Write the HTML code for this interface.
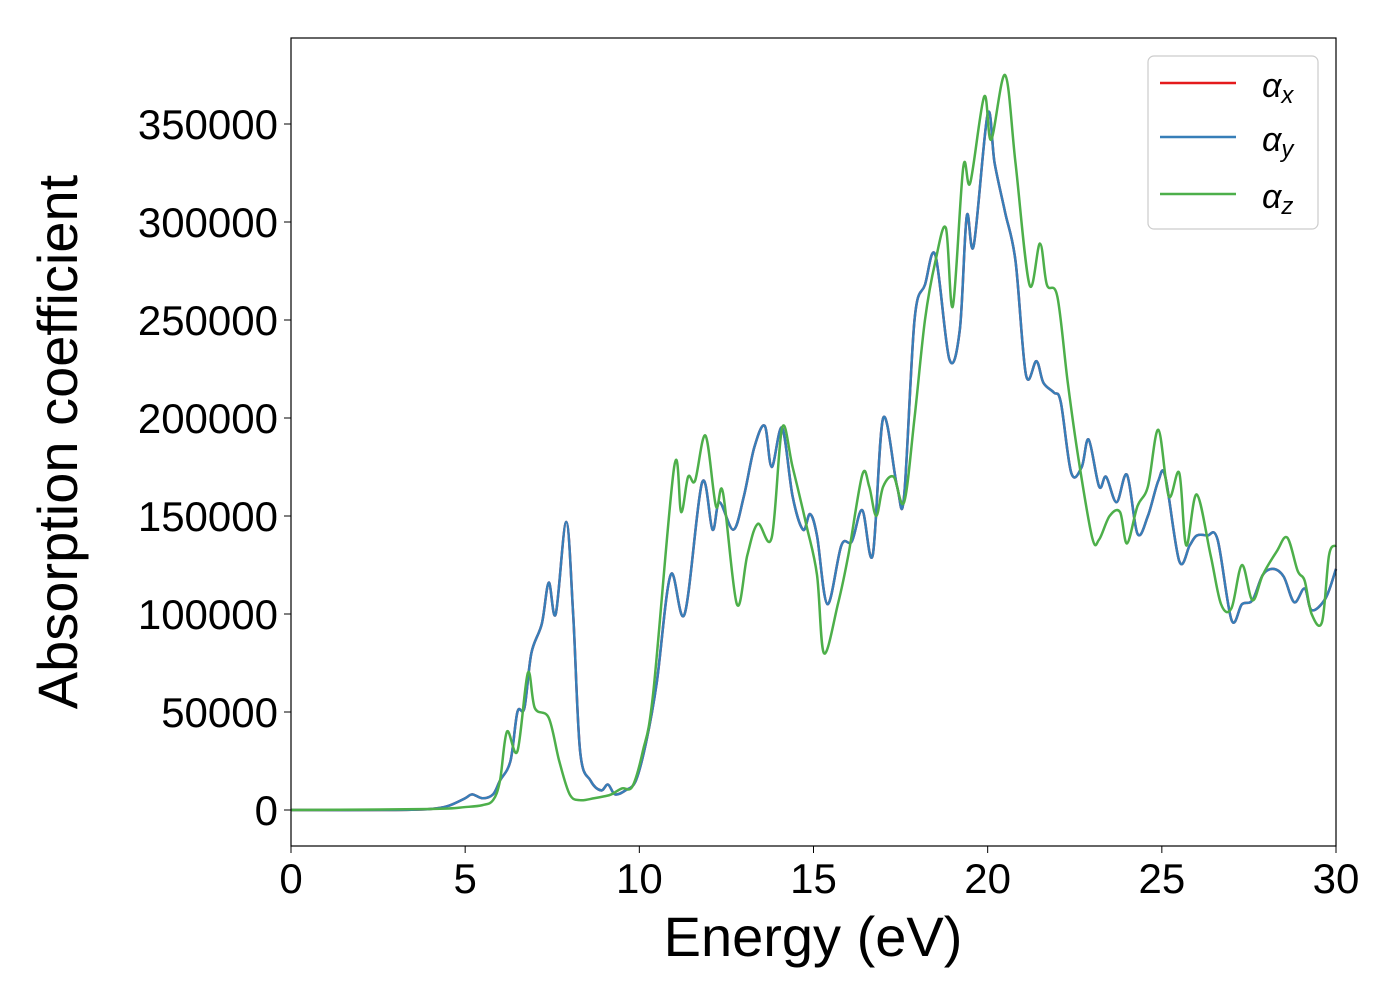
<!DOCTYPE html>
<html><head><meta charset="utf-8"><style>
body{margin:0;background:#fff;}
svg text{font-family:"Liberation Sans","DejaVu Sans",sans-serif;}
</style></head><body>
<svg width="1400" height="1000" xmlns="http://www.w3.org/2000/svg">
<g id="series"></g>
<rect x="291" y="38" width="1045" height="808" fill="none" stroke="#000" stroke-width="1.2"/>
<g id="xt"></g>
<g id="yt"></g>
<text x="813" y="956" font-size="56" text-anchor="middle">Energy (eV)</text>
<text transform="translate(77,442) rotate(-90)" font-size="56" text-anchor="middle">Absorption coefficient</text>
<g>
<rect x="1148" y="56" width="170" height="173" rx="6" fill="#fff" stroke="#ccc" stroke-width="1.2"/>
<line x1="1160" y1="83" x2="1236" y2="83" stroke="#e41a1c" stroke-width="2.5"/>
<text x="1262" y="97" font-size="34" font-style="italic">α<tspan font-size="24" dy="6">x</tspan></text>
<line x1="1160" y1="137" x2="1236" y2="137" stroke="#377eb8" stroke-width="2.5"/>
<text x="1262" y="151" font-size="34" font-style="italic">α<tspan font-size="24" dy="6">y</tspan></text>
<line x1="1160" y1="194" x2="1236" y2="194" stroke="#4daf4a" stroke-width="2.5"/>
<text x="1262" y="208" font-size="34" font-style="italic">α<tspan font-size="24" dy="6">z</tspan></text>
</g>
</svg>
<script>
const xTicks=[0,5,10,15,20,25,30];
const yTicks=[0,50000,100000,150000,200000,250000,300000,350000];
const xyE=[0,3,4,4.5,5,5.2,5.5,5.8,6,6.3,6.5,6.7,6.9,7.2,7.4,7.6,7.9,8.1,8.3,8.6,8.9,9.1,9.3,9.6,9.9,10.2,10.5,10.9,11.3,11.8,12.1,12.3,12.7,13,13.3,13.6,13.8,14.1,14.4,14.7,14.9,15.1,15.4,15.8,16.1,16.4,16.7,17,17.4,17.6,17.9,18.2,18.5,18.9,19.2,19.4,19.6,20,20.2,20.5,20.8,21.1,21.4,21.6,21.9,22.1,22.4,22.7,22.9,23.2,23.4,23.7,24,24.3,24.6,24.9,25.1,25.5,25.8,26,26.3,26.6,27,27.3,27.6,27.9,28.2,28.5,28.8,29.1,29.3,29.7,30];
const yVals=[0,0,500,2000,6000,8000,6000,8000,15000,25000,50000,52000,80000,95000,116000,100000,147000,100000,30000,15000,10000,13000,8000,10000,15000,35000,65000,120000,100000,167000,143000,157000,143000,160000,185000,196000,175000,195000,160000,143000,151000,140000,105000,135000,137000,153000,130000,200000,165000,160000,250000,268000,283000,230000,245000,303000,288000,355000,330000,305000,280000,222000,229000,218000,213000,208000,172000,175000,189000,165000,170000,157000,171000,141000,150000,168000,170000,127000,135000,140000,140000,138000,97000,105000,107000,120000,123000,119000,106000,113000,102000,108000,123000];
const xVals=yVals.map((v,i)=>v);
const zE=[0,4,5,5.5,5.8,6,6.2,6.5,6.8,7,7.4,7.7,8,8.3,8.7,9,9.2,9.5,9.8,10.1,10.4,11,11.2,11.4,11.6,11.9,12.2,12.4,12.8,13.1,13.4,13.8,14.1,14.4,14.8,15.1,15.3,15.7,16,16.4,16.6,16.8,17,17.3,17.6,17.9,18.2,18.5,18.8,19,19.3,19.5,19.9,20.1,20.5,20.8,21.2,21.5,21.7,22,22.3,22.6,23,23.2,23.5,23.8,24,24.3,24.6,24.9,25.2,25.5,25.7,26,26.4,26.7,27,27.3,27.6,27.9,28.3,28.6,28.9,29.1,29.3,29.6,29.8,30];
const zVals=[0,500,1500,2500,5000,15000,40000,30000,70000,52000,47000,25000,8000,5000,6000,7000,8000,11000,12000,30000,60000,175000,152000,170000,168000,191000,155000,162000,105000,130000,146000,139000,195000,175000,145000,120000,80000,105000,130000,171000,165000,150000,165000,170000,157000,200000,250000,280000,297000,257000,328000,320000,364000,342000,375000,330000,268000,289000,268000,262000,218000,180000,139000,138000,150000,152000,136000,155000,165000,194000,160000,172000,135000,161000,130000,105000,103000,125000,107000,120000,132000,139000,122000,117000,100000,96000,130000,135000];
const sx=e=>291+e*(1045/30);
const sy=v=>810-v*(686/350000);
const NS="http://www.w3.org/2000/svg";
function pathD(E,V){
  const p=E.map((e,i)=>[sx(e),sy(V[i])]);
  let d="M"+p[0][0]+","+p[0][1];
  for(let i=0;i<p.length-1;i++){
    const p0=p[Math.max(0,i-1)],p1=p[i],p2=p[i+1],p3=p[Math.min(p.length-1,i+2)];
    const c1=[p1[0]+(p2[0]-p0[0])/6,p1[1]+(p2[1]-p0[1])/6];
    const c2=[p2[0]-(p3[0]-p1[0])/6,p2[1]-(p3[1]-p1[1])/6];
    d+=" C"+c1[0]+","+c1[1]+" "+c2[0]+","+c2[1]+" "+p2[0]+","+p2[1];
  }
  return d;
}
const g=document.getElementById("series");
[[xyE,xVals,"#e41a1c","series-alpha-x"],[xyE,yVals,"#377eb8","series-alpha-y"],[zE,zVals,"#4daf4a","series-alpha-z"]].forEach(s=>{
  const p=document.createElementNS(NS,"path");
  p.setAttribute("d",pathD(s[0],s[1]));
  p.setAttribute("fill","none");p.setAttribute("stroke",s[2]);p.setAttribute("stroke-width","2.5");
  
  
  g.appendChild(p);
});
const xt=document.getElementById("xt");
xTicks.forEach(t=>{
  const l=document.createElementNS(NS,"line");
  l.setAttribute("x1",sx(t));l.setAttribute("x2",sx(t));l.setAttribute("y1",846);l.setAttribute("y2",853);l.setAttribute("stroke","#000");
  
  
  xt.appendChild(l);
  const tx=document.createElementNS(NS,"text");
  tx.setAttribute("x",sx(t));tx.setAttribute("y",893);tx.setAttribute("font-size","42");tx.setAttribute("text-anchor","middle");
  tx.textContent=t;
  
  
  xt.appendChild(tx);
});
const yt=document.getElementById("yt");
yTicks.forEach(t=>{
  const l=document.createElementNS(NS,"line");
  l.setAttribute("x1",284);l.setAttribute("x2",291);l.setAttribute("y1",sy(t));l.setAttribute("y2",sy(t));l.setAttribute("stroke","#000");
  
  
  yt.appendChild(l);
  const tx=document.createElementNS(NS,"text");
  tx.setAttribute("x",278);tx.setAttribute("y",sy(t)+15);tx.setAttribute("font-size","42");tx.setAttribute("text-anchor","end");
  tx.textContent=t;
  
  
  yt.appendChild(tx);
});
</script>
</body></html>
